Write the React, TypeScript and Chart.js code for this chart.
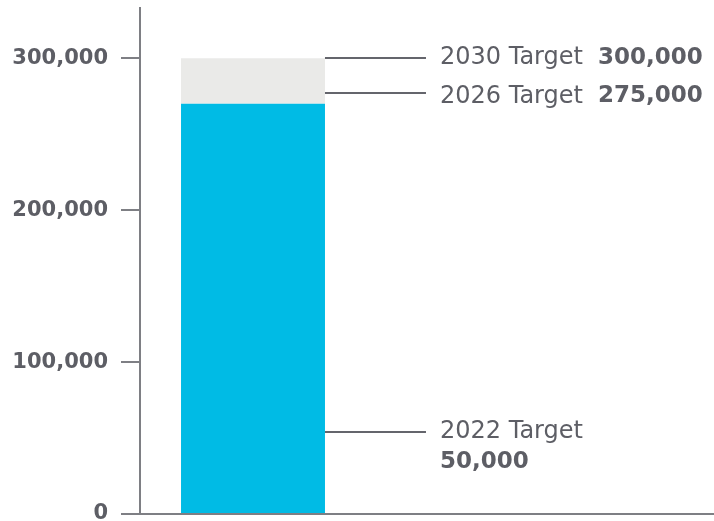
import React, { useEffect, useRef } from 'react';
import { Chart, registerables } from 'chart.js';

Chart.register(...registerables);

// ---- data ----
const categories = ['Targets'];
const achievedValues = [270000];
const remainingValues = [30000];
const yTickValues = [0, 100000, 200000, 300000];
const yMax = 333000;
const annotationNames = ['2030 Target', '2026 Target', '2022 Target'];
const annotationAmounts = ['300,000', '275,000', '50,000'];
const annotationLevels = [300000, 277000, 54000];

// ---- style ----
const TEXT = '#5d5e65';
const AXIS = '#7e7f84';
const LEADER = '#64656c';
const FONT = '"DejaVu Sans", sans-serif';

const annotationPlugin = {
  id: 'targetAnnotations',
  afterDraw(chart: any) {
    const { ctx, chartArea, scales } = chart;
    const yScale = scales.y;
    const meta = chart.getDatasetMeta(1);
    const bar = meta.data[0];
    if (!bar) return;
    const { x, width } = bar.getProps(['x', 'width'], true);
    const barRight = x + width / 2;

    ctx.save();
    // extend baseline to the right edge
    ctx.strokeStyle = AXIS;
    ctx.lineWidth = 2;
    ctx.beginPath();
    ctx.moveTo(chartArea.right - 1, Math.round(chartArea.bottom));
    ctx.lineTo(chart.width, Math.round(chartArea.bottom));
    ctx.stroke();

    const textDy = [0, 3.5, 0];
    const stacked = [false, false, true];
    annotationLevels.forEach((lvl, i) => {
      const py = Math.round(yScale.getPixelForValue(lvl));
      ctx.strokeStyle = LEADER;
      ctx.lineWidth = 2;
      ctx.beginPath();
      ctx.moveTo(barRight, py);
      ctx.lineTo(barRight + 101, py);
      ctx.stroke();

      const tx = barRight + 115;
      ctx.fillStyle = TEXT;
      ctx.textBaseline = 'middle';
      ctx.textAlign = 'left';
      ctx.font = `normal 24px ${FONT}`;
      ctx.fillText(annotationNames[i], tx, py + textDy[i]);
      const w = ctx.measureText(annotationNames[i]).width;
      ctx.font = `bold 23px ${FONT}`;
      if (stacked[i]) {
        ctx.fillText(annotationAmounts[i], tx, py + textDy[i] + 30);
      } else {
        ctx.fillText(annotationAmounts[i], tx + w + 15, py + textDy[i]);
      }
    });
    ctx.restore();
  },
};

export default function App() {
  const ref = useRef<HTMLCanvasElement>(null);
  useEffect(() => {
    if (!ref.current) return;
    const chart = new Chart(ref.current, {
      type: 'bar',
      data: {
        labels: categories,
        datasets: [
          {
            label: 'Achieved',
            data: achievedValues,
            backgroundColor: '#00bbe5',
            borderWidth: 0,
            barPercentage: 0.637,
            categoryPercentage: 1,
          },
          {
            label: 'Remaining',
            data: remainingValues,
            backgroundColor: '#eaeae8',
            borderWidth: 0,
            barPercentage: 0.637,
            categoryPercentage: 1,
          },
        ],
      },
      options: {
        responsive: false,
        animation: false,
        layout: { padding: { top: 8, right: 348, bottom: 7, left: 0 } },
        plugins: {
          legend: { display: false },
          tooltip: { enabled: false },
        },
        scales: {
          x: {
            type: 'category',
            stacked: true,
            offset: true,
            grid: { display: false },
            ticks: { display: false },
            border: { display: true, color: AXIS, width: 2 },
            afterFit: (s: any) => {
              s.height = 0;
              s.paddingLeft = 0;
              s.paddingRight = 0;
            },
          },
          y: {
            stacked: true,
            min: 0,
            max: yMax,
            afterBuildTicks: (axis: any) => {
              axis.ticks = yTickValues.map((v) => ({ value: v }));
            },
            afterFit: (s: any) => {
              s.width = 140;
              s.paddingTop = 0;
              s.paddingBottom = 0;
            },
            grid: {
              display: true,
              drawOnChartArea: false,
              drawTicks: true,
              tickLength: 19,
              color: AXIS,
              lineWidth: 2,
            },
            border: { display: true, color: AXIS, width: 2 },
            ticks: {
              color: TEXT,
              padding: 13,
              font: { family: FONT, size: 21, weight: 'bold' },
              callback: (v: any) => Number(v).toLocaleString('en-US'),
            },
          },
        },
      },
      plugins: [annotationPlugin],
    });
    return () => chart.destroy();
  }, []);

  return (
    <div style={{ position: 'absolute', left: 0, top: 0, width: 714, height: 521, background: '#fff' }}>
      <canvas ref={ref} width={714} height={521} style={{ display: 'block' }} />
    </div>
  );
}
